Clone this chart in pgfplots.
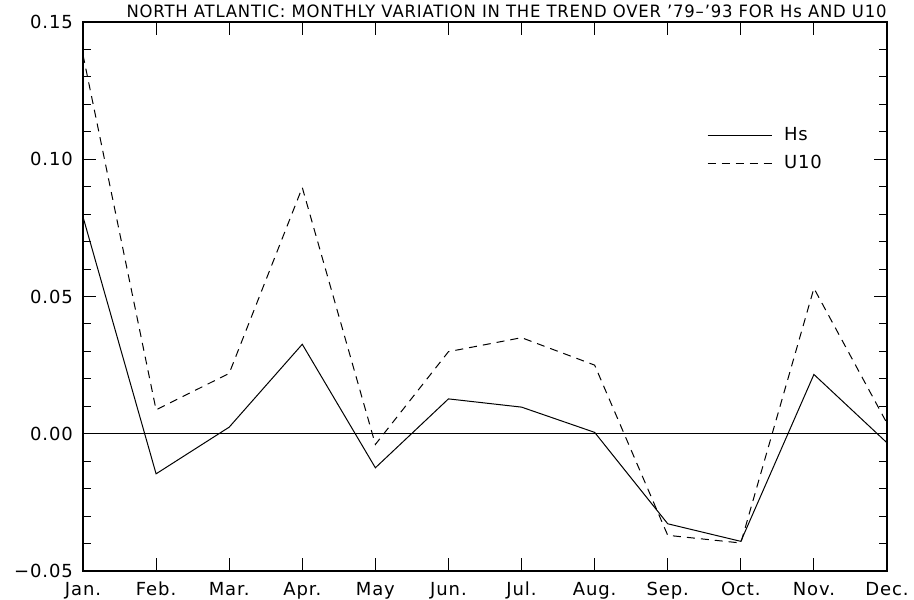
\documentclass[border=0pt]{standalone}
\usepackage{pgfplots}
\pgfplotsset{compat=1.18}
\usepackage{fontspec}
\setmainfont{DejaVu Sans}[LetterSpace=5]
\begin{document}
\begin{tikzpicture}
\useasboundingbox (-41.5pt,-14pt) rectangle (415.5pt,285.5pt);
\begin{axis}[
  name=ax,
  scale only axis, width=402pt, height=274.5pt,
  xmin=0, xmax=11, ymin=-0.05, ymax=0.15,
  xtick={0,...,11},
  xticklabels={Jan.,Feb.,Mar.,Apr.,May,Jun.,Jul.,Aug.,Sep.,Oct.,Nov.,Dec.},
  ytick={-0.05,0,0.05,0.10,0.15},
  yticklabels={−0.05,0.00,0.05,0.10,0.15},
  minor y tick num=4,
  tick align=inside,
  major tick length=6.5pt, minor tick length=4pt,
  tick style={black, line width=0.5pt},
  axis line style={line width=0.6pt},
  ticklabel style={font=\fontsize{9}{10}\selectfont},
  y tick label style={xshift=-1.5pt},
  x tick label style={yshift=-2pt},
  legend style={draw=none, fill=none, at={(axis cs:8.45,0.1145)}, anchor=north west,
    font=\fontsize{9}{10}\selectfont, row sep=1.5pt,
    nodes={inner xsep=6pt}},
  legend cell align=left,
  legend image code/.code={\draw[#1] (0pt,0pt) -- (32pt,0pt);},
]
\addplot[black, line width=0.5pt] coordinates {
(0,0.079) (1,-0.0146) (2,0.0024) (3,0.0326) (4,-0.0124) (5,0.0127)
(6,0.0097) (7,0.0005) (8,-0.0328) (9,-0.0392) (10,0.0216) (11,-0.0033)};
\addlegendentry{Hs}
\addplot[black, line width=0.5pt, dash pattern=on 4pt off 3pt] coordinates {
(0,0.138) (1,0.0087) (2,0.022) (3,0.0897) (4,-0.0039) (5,0.0299)
(6,0.035) (7,0.025) (8,-0.037) (9,-0.0398) (10,0.053) (11,0.0038)};
\addlegendentry{U10}
\addplot[black, line width=0.5pt, forget plot] coordinates {(0,0) (11,0)};
\end{axis}
\node[anchor=base east, inner sep=0pt, font=\fontsize{8.5}{9}\selectfont]
  at ([yshift=2pt]ax.north east)
  {\resizebox{380pt}{\height}{NORTH ATLANTIC: MONTHLY VARIATION IN THE TREND OVER '79–'93 FOR Hs AND U10}};
\end{tikzpicture}
\end{document}
